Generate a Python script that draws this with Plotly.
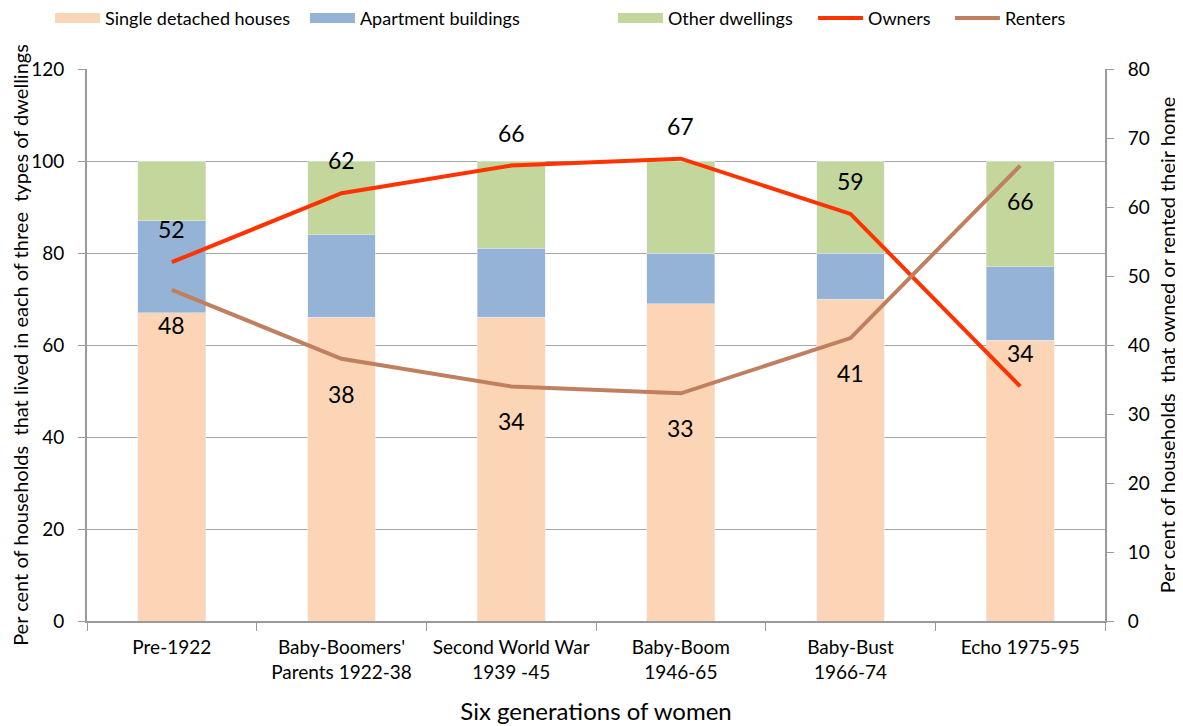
import plotly.graph_objects as go

categories = ["Pre-1922", "Baby-Boomers'<br>Parents 1922-38", "Second World War<br>1939 -45",
              "Baby-Boom<br>1946-65", "Baby-Bust<br>1966-74", "Echo 1975-95"]
single_detached = [67, 66, 66, 69, 70, 61]
apartments = [20, 18, 15, 11, 10, 16]
other_dwellings = [13, 16, 19, 20, 20, 23]
owners = [52, 62, 66, 67, 59, 34]
renters = [48, 38, 34, 33, 41, 66]

FONT = "Lato"
C_SINGLE, C_APT, C_OTHER = "#FBD5B5", "#95B3D7", "#C3D69B"
C_OWN, C_RENT = "#FF3300", "#C0805F"

fig = go.Figure()
fig.add_trace(go.Bar(x=categories, y=single_detached, name="Single detached houses",
                     marker_color=C_SINGLE, width=0.4, showlegend=False))
fig.add_trace(go.Bar(x=categories, y=apartments, name="Apartment buildings",
                     marker_color=C_APT, width=0.4, showlegend=False))
fig.add_trace(go.Bar(x=categories, y=other_dwellings, name="Other dwellings",
                     marker_color=C_OTHER, width=0.4, showlegend=False))
fig.add_trace(go.Scatter(x=categories, y=owners, name="Owners", mode="lines",
                         line=dict(color=C_OWN, width=4), yaxis="y2", legend="legend4"))
fig.add_trace(go.Scatter(x=categories, y=renters, name="Renters", mode="lines",
                         line=dict(color=C_RENT, width=4), yaxis="y2", legend="legend5"))

# legend-only swatches for the stacked bars (wide rectangles as in the reference)
for name, col, lg in [("Single detached houses", C_SINGLE, "legend"),
                      ("Apartment buildings", C_APT, "legend2"),
                      ("Other dwellings", C_OTHER, "legend3")]:
    fig.add_trace(go.Scatter(x=[None], y=[None], mode="lines", name=name,
                             line=dict(color=col, width=12), legend=lg))

annotations = []
for c, v in zip(categories, owners):
    annotations.append(dict(x=c, y=v, xref="x", yref="y2", text=str(v), showarrow=False,
                            yshift=33, font=dict(size=23, color="black", family=FONT)))
for c, v in zip(categories, renters):
    annotations.append(dict(x=c, y=v, xref="x", yref="y2", text=str(v), showarrow=False,
                            yshift=-35, font=dict(size=23, color="black", family=FONT)))

legend_x = {"legend": -0.0363, "legend2": 0.2141, "legend3": 0.5167,
            "legend4": 0.7132, "legend5": 0.8477}
legends = {}
for key, xv in legend_x.items():
    legends[key] = dict(orientation="h", x=xv, xanchor="left", y=1.092, yref="paper",
                        yanchor="middle", font=dict(size=18), itemwidth=45,
                        bgcolor="rgba(0,0,0,0)")

fig.update_layout(
    width=1175, height=718,
    barmode="stack",
    plot_bgcolor="white", paper_bgcolor="white",
    font=dict(family=FONT, size=18, color="black"),
    margin=dict(l=79, r=78, t=61, b=105, autoexpand=False),
    annotations=annotations,
    showlegend=True,
    **legends,
    xaxis=dict(title=dict(text="Six generations of women", font=dict(size=24), standoff=22),
               showline=True, linecolor="#9A9A9A", linewidth=2,
               ticks="outside", tickson="boundaries", tickcolor="#9A9A9A", ticklen=8,
               ticklabelstandoff=8, tickfont=dict(size=19)),
    yaxis=dict(title=dict(text="Per cent of households  that lived in each of three  types of dwellings",
                          font=dict(size=20), standoff=4),
               range=[0, 120], dtick=20, showgrid=True, gridcolor="#A6A6A6", gridwidth=1,
               showline=True, linecolor="#9A9A9A", linewidth=2, ticks="outside",
               tickcolor="#9A9A9A", ticklen=7, ticklabelstandoff=10, zeroline=False,
               tickfont=dict(size=19)),
    yaxis2=dict(title=dict(text="Per cent of households  that owned or rented their home",
                           font=dict(size=20), standoff=12),
                overlaying="y", side="right", range=[0, 80], dtick=10, showgrid=False,
                showline=True, linecolor="#9A9A9A", linewidth=2, ticks="outside",
                tickcolor="#9A9A9A", ticklen=7, ticklabelstandoff=10, zeroline=False,
                tickfont=dict(size=19)),
)

fig.write_html("out.html")
